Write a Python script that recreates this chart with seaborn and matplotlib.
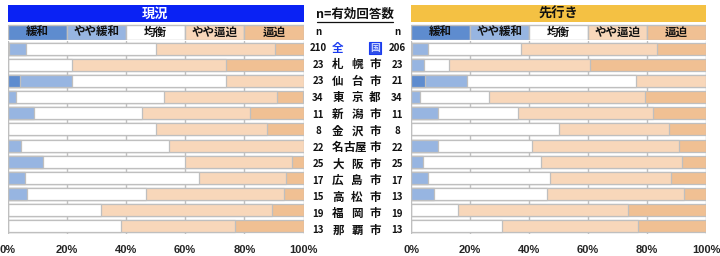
import numpy as np
import pandas as pd
import matplotlib
matplotlib.use("Agg")
import matplotlib.pyplot as plt
import matplotlib.transforms as mtransforms
from matplotlib.lines import Line2D
import seaborn as sns

# ---------------- data ----------------
cities = ["全国", "札幌市", "仙台市", "東京都", "新潟市", "金沢市", "名古屋市",
          "大阪市", "広島市", "高松市", "福岡市", "那覇市"]
n_now = [210, 23, 23, 34, 11, 8, 22, 25, 17, 15, 19, 13]
n_fut = [206, 23, 21, 34, 11, 8, 22, 25, 17, 13, 19, 13]
categories = ["緩和", "やや緩和", "均衡", "やや逼迫", "逼迫"]

# 現況 (%)
now_kanwa     = [0.5, 0.0, 4.3, 0.0, 0.0, 0.0, 0.0, 0.0, 0.0, 0.0, 0.0, 0.0]
now_yaya_kan  = [5.7, 0.0, 17.4, 2.9, 9.1, 0.0, 4.5, 12.0, 5.9, 6.7, 0.0, 0.0]
now_kinko     = [43.8, 21.7, 52.2, 50.0, 36.4, 50.0, 50.0, 48.0, 58.8, 40.0, 31.6, 38.5]
now_yaya_hip  = [40.5, 52.2, 26.1, 38.2, 36.4, 37.5, 45.5, 36.0, 29.4, 46.7, 57.9, 38.5]
now_hippaku   = [9.5, 26.1, 0.0, 8.8, 18.2, 12.5, 0.0, 4.0, 5.9, 6.7, 10.5, 23.1]

# 先行き (%)
fut_kanwa     = [0.5, 0.0, 4.8, 0.0, 0.0, 0.0, 0.0, 0.0, 0.0, 0.0, 0.0, 0.0]
fut_yaya_kan  = [5.3, 4.3, 14.3, 2.9, 9.1, 0.0, 9.1, 4.0, 5.9, 7.7, 0.0, 0.0]
fut_kinko     = [31.6, 8.7, 57.1, 23.5, 27.3, 50.0, 31.8, 40.0, 41.2, 38.5, 15.8, 30.8]
fut_yaya_hip  = [46.1, 47.8, 23.8, 52.9, 45.5, 37.5, 50.0, 48.0, 41.2, 46.2, 57.9, 46.2]
fut_hippaku   = [16.5, 39.1, 0.0, 20.6, 18.2, 12.5, 9.1, 8.0, 11.8, 7.7, 26.3, 23.1]

xticks = [0, 20, 40, 60, 80, 100]
xticklabels = ["0%", "20%", "40%", "60%", "80%", "100%"]

# ---------------- style ----------------
sns.set_theme(style="white")
plt.rcParams["font.family"] = ["Noto Sans CJK JP", "DejaVu Sans"]

colors = ["#5E8CCF", "#97B5E1", "#FFFFFF", "#F8D7BA", "#F0C093"]
edge = "#BFBFBF"
W, H = 720, 256
fig = plt.figure(figsize=(7.2, 2.56), dpi=100)


def fx(px):
    return px / W


def fy(py):
    return 1 - py / H


def draw_panel(x0, x1, title, band_color, title_color, layers):
    # header axes
    axh = fig.add_axes([fx(x0), fy(40), fx(x1 - x0), 35 / H])
    axh.set_xlim(0, 100)
    axh.set_ylim(35, 0)
    axh.axis("off")
    axh.barh([8.5], [100], left=[0], height=17, color=band_color, edgecolor="none")
    axh.text(50, 8.5, title, ha="center", va="center", fontsize=9.5, fontweight="bold",
             color=title_color)
    for i, (c, lab) in enumerate(zip(colors, categories)):
        axh.barh([27.5], [20], left=[i * 20], height=15, color=c, edgecolor=edge,
                 linewidth=1.0)
        axh.text(i * 20 + 10, 27.8, lab, ha="center", va="center", fontsize=8.3,
                 fontweight="bold", color="#111111")

    # bar axes
    ax = fig.add_axes([fx(x0), fy(234), fx(x1 - x0), (234 - 41) / H])
    df = pd.DataFrame({"city": cities})
    cum = np.zeros(len(cities))
    cums = []
    for vals in layers:
        cum = cum + np.array(vals)
        cums.append(np.minimum(cum, 100))
    # overdraw from total to first segment
    for k in range(len(layers) - 1, -1, -1):
        df["v"] = cums[k]
        sns.barplot(data=df, x="v", y="city", orient="h", color=colors[k],
                    saturation=1, width=0.75, edgecolor=edge, linewidth=0.9,
                    ax=ax, zorder=2 + (len(layers) - k))
    ax.set_xlim(0, 100)
    ax.set_ylim(len(cities) - 0.5, -0.5)
    ax.set_xticks(xticks)
    ax.set_xticklabels(xticklabels, fontsize=8, fontweight="bold",
                       family=["Liberation Sans", "DejaVu Sans"])
    ax.tick_params(axis="x", length=0, pad=8)
    ax.set_yticks([])
    ax.set_xlabel("")
    ax.set_ylabel("")
    ax.grid(axis="x", color=edge, linewidth=1.0, zorder=0)
    ax.set_axisbelow(True)
    for s in ax.spines.values():
        s.set_visible(False)
    return ax


axL = draw_panel(7.5, 303.5, "現況", "#0A22F4", "white",
                 [now_kanwa, now_yaya_kan, now_kinko, now_yaya_hip, now_hippaku])
axR = draw_panel(411, 706, "先行き", "#F4C143", "#111111",
                 [fut_kanwa, fut_yaya_kan, fut_kinko, fut_yaya_hip, fut_hippaku])

# ---------------- middle column ----------------
fig.text(fx(355), fy(14), "n=有効回答数", ha="center", va="center", fontsize=9,
         fontweight="bold", color="#111111")
fig.add_artist(Line2D([fx(317), fx(393)], [fy(22), fy(22)], color="#111111",
                      linewidth=0.9, transform=fig.transFigure))
fig.text(fx(318), fy(32), "n", ha="center", va="center", fontsize=7,
         fontweight="bold", color="#111111")
fig.text(fx(397), fy(32), "n", ha="center", va="center", fontsize=7,
         fontweight="bold", color="#111111")

tr = mtransforms.blended_transform_factory(fig.transFigure, axL.transData)
for i, (c, a, b) in enumerate(zip(cities, n_now, n_fut)):
    yy = i - 0.05 + i * 0.03
    fig.text(fx(318), yy, str(a), transform=tr, ha="center", va="center",
             fontsize=7, fontweight="bold", color="#111111")
    fig.text(fx(397), yy, str(b), transform=tr, ha="center", va="center",
             fontsize=7, fontweight="bold", color="#111111")
    if len(c) == 2:
        xs = [338, 375]
    elif len(c) == 3:
        xs = [338, 357, 375]
    else:
        xs = [338, 349, 360, 375]
    for j, (ch, xp) in enumerate(zip(c, xs)):
        if i == 0:
            if j == 0:
                fig.text(fx(xp), yy, ch, transform=tr, ha="center", va="center",
                         fontsize=8.3, fontweight="bold", color="#1A3BF0")
            else:
                fig.text(fx(xp), yy, ch, transform=tr, ha="center", va="center",
                         fontsize=7, fontweight="bold", color="#C8D2FF",
                         bbox=dict(boxstyle="square,pad=0.08", fc="#3050E8",
                                   ec="#1A3BF0", lw=0.8))
        else:
            fig.text(fx(xp), yy, ch, transform=tr, ha="center", va="center",
                     fontsize=8.3, fontweight="bold", color="#111111")

fig.savefig("out.png", dpi=100)
